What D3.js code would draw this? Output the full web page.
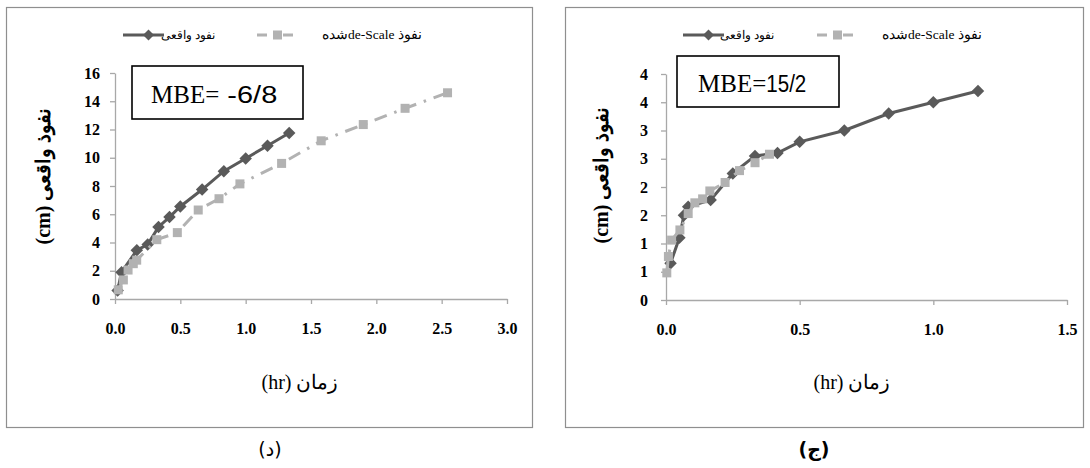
<!DOCTYPE html>
<meta charset="utf-8">
<script src="https://d3js.org/d3.v7.min.js"></script>
<style>
  body { margin: 0; background: #fff; }
</style>
<div id="chart"></div>

<script>
// ---- data ----
// left panel (د)
const leftActualT = [0.02, 0.05, 0.167, 0.25, 0.333, 0.417, 0.5, 0.667, 0.833, 1.0, 1.167, 1.333];
const leftActualV = [0.6, 1.9, 3.45, 3.85, 5.1, 5.8, 6.55, 7.75, 9.05, 9.95, 10.85, 11.75];
const leftScaledT = [0.025, 0.064, 0.10, 0.14, 0.166, 0.32, 0.477, 0.637, 0.796, 0.956, 1.275, 1.578, 1.90, 2.22, 2.545];
const leftScaledV = [0.65, 1.35, 2.05, 2.5, 2.75, 4.2, 4.7, 6.3, 7.1, 8.15, 9.6, 11.2, 12.35, 13.5, 14.6];
const leftXTicks = [0, 0.5, 1.0, 1.5, 2.0, 2.5, 3.0];
const leftYTicks = [0, 2, 4, 6, 8, 10, 12, 14, 16];
const leftYLabels = ["0", "2", "4", "6", "8", "10", "12", "14", "16"];

// right panel (ج)
const rightActualT = [0.017, 0.05, 0.067, 0.083, 0.167, 0.25, 0.333, 0.417, 0.5, 0.667, 0.833, 1.0, 1.167];
const rightActualV = [0.65, 1.1, 1.5, 1.65, 1.77, 2.24, 2.55, 2.6, 2.8, 3.0, 3.3, 3.5, 3.7];
const rightScaledT = [0.003, 0.009, 0.021, 0.052, 0.083, 0.108, 0.137, 0.164, 0.221, 0.275, 0.333, 0.387];
const rightScaledV = [0.48, 0.77, 1.06, 1.24, 1.53, 1.72, 1.79, 1.93, 2.08, 2.29, 2.43, 2.58];
const rightXTicks = [0, 0.5, 1.0, 1.5];
const rightYTicks = [0, 0.5, 1, 1.5, 2, 2.5, 3, 3.5, 4];
const rightYLabels = ["0", "1", "1", "2", "2", "3", "3", "4", "4"];

const legendActual = "نفود واقعی";
const legendScaled = "نفوذ de-Scaleشده";
const yTitle = "نفوذ واقعی (cm)";
const xTitle = "زمان (hr)";

const darkCol = "#5a5a5a", lightCol = "#b2b2b2", axisCol = "#a8a8a8";
const serif = "'Liberation Serif', serif";

const svg = d3.select("#chart").append("svg")
    .attr("width", 1090).attr("height", 468);

function panel(o) {
  // frame
  svg.append("rect")
    .attr("x", o.box[0] + 0.5).attr("y", o.box[1] + 0.5)
    .attr("width", o.box[2]).attr("height", o.box[3])
    .attr("fill", "#fff").attr("stroke", "#8f8f8f").attr("stroke-width", 1.2);

  const x = d3.scaleLinear().domain(o.xDomain).range(o.xRange);
  const y = d3.scaleLinear().domain(o.yDomain).range(o.yRange);

  const xa = svg.append("g")
    .attr("transform", `translate(0,${o.yRange[0]})`)
    .call(d3.axisBottom(x).tickValues(o.xTicks).tickFormat(d3.format(".1f"))
      .tickSizeInner(5).tickSizeOuter(0).tickPadding(19));
  const ya = svg.append("g")
    .attr("transform", `translate(${o.xRange[0]},0)`)
    .call(d3.axisLeft(y).tickValues(o.yTicks).tickFormat((d, i) => o.yLabels[i])
      .tickSizeInner(5).tickSizeOuter(0).tickPadding(o.yPad));
  [xa, ya].forEach(a => {
    a.select(".domain").attr("stroke", axisCol).attr("stroke-width", 1.3);
    a.selectAll(".tick line").attr("stroke", axisCol).attr("stroke-width", 1.3);
    a.selectAll("text").attr("fill", "#000")
      .style("font-family", serif).style("font-size", "16px").style("font-weight", "bold");
  });

  const line = d3.line().x(d => x(d[0])).y(d => y(d[1]));
  const act = o.actT.map((t, i) => [t, o.actV[i]]);
  const sc = o.scT.map((t, i) => [t, o.scV[i]]);

  svg.append("path").datum(act).attr("d", line)
    .attr("fill", "none").attr("stroke", darkCol).attr("stroke-width", 3);
  svg.append("g").selectAll("path").data(act).join("path")
    .attr("d", d3.symbol(d3.symbolSquare, 78))
    .attr("transform", d => `translate(${x(d[0])},${y(d[1])}) rotate(45)`)
    .attr("fill", darkCol);

  svg.append("path").datum(sc).attr("d", line)
    .attr("fill", "none").attr("stroke", lightCol).attr("stroke-width", 3)
    .attr("stroke-dasharray", "13,8,2.5,8");
  svg.append("g").selectAll("rect").data(sc).join("rect")
    .attr("x", d => x(d[0]) - 4.5).attr("y", d => y(d[1]) - 4.5)
    .attr("width", 9).attr("height", 9).attr("fill", lightCol);

  // MBE box
  svg.append("rect")
    .attr("x", o.mbeBox[0]).attr("y", o.mbeBox[1])
    .attr("width", o.mbeBox[2]).attr("height", o.mbeBox[3])
    .attr("fill", "#fff").attr("stroke", "#000").attr("stroke-width", 1.6);
  const mt = svg.append("text").attr("x", o.mbeText[0]).attr("y", o.mbeText[1]);
  mt.append("tspan").text(o.mbeA).style("font-family", serif).style("font-size", "25px");
  mt.append("tspan").text(o.mbeB).style("font-family", "'Liberation Sans', sans-serif")
    .style("font-size", "23px").attr("textLength", o.mbeBLen).attr("lengthAdjust", "spacingAndGlyphs");

  // legend
  const lg = o.legend;
  svg.append("line").attr("x1", lg.a[0]).attr("x2", lg.a[1]).attr("y1", lg.y).attr("y2", lg.y)
    .attr("stroke", darkCol).attr("stroke-width", 3);
  svg.append("path").attr("d", d3.symbol(d3.symbolSquare, 60))
    .attr("transform", `translate(${(lg.a[0] + lg.a[1]) / 2 + 5},${lg.y}) rotate(45)`)
    .attr("fill", darkCol);
  svg.append("text").attr("x", lg.t1).attr("y", lg.y + 4).attr("text-anchor", "middle")
    .attr("direction", "rtl").style("font-family", serif).style("font-size", "12px").text(legendActual);
  svg.append("line").attr("x1", lg.b[0]).attr("x2", lg.b[1]).attr("y1", lg.y).attr("y2", lg.y)
    .attr("stroke", lightCol).attr("stroke-width", 3).attr("stroke-dasharray", "10,7,2,7,10");
  svg.append("rect").attr("x", (lg.b[0] + lg.b[1]) / 2 - 4.5).attr("y", lg.y - 4.5)
    .attr("width", 9).attr("height", 9).attr("fill", lightCol);
  svg.append("text").attr("x", lg.t2).attr("y", lg.y + 4).attr("text-anchor", "middle")
    .attr("direction", "rtl").style("font-family", serif).style("font-size", "13.5px").text(legendScaled);

  // axis titles
  svg.append("text")
    .attr("transform", `translate(${o.yTitle[0]},${o.yTitle[1]}) rotate(-90)`)
    .attr("text-anchor", "middle").attr("direction", "rtl")
    .style("font-family", serif).style("font-weight", "bold").style("font-size", "20px")
    .text(yTitle);
  svg.append("text")
    .attr("x", o.xTitle[0]).attr("y", o.xTitle[1])
    .attr("text-anchor", "middle").attr("direction", "rtl")
    .style("font-family", serif).style("font-size", "20px")
    .text(xTitle);

  // caption under the frame
  svg.append("text")
    .attr("x", o.caption[0]).attr("y", o.caption[1])
    .attr("text-anchor", "middle").attr("direction", "rtl")
    .style("font-family", "'DejaVu Sans', sans-serif").style("font-size", "19px")
    .style("font-weight", o.capBold ? "bold" : "normal")
    .text(o.capText);
}

panel({
  box: [6, 7, 526, 420],
  xDomain: [0, 3], xRange: [115, 507],
  yDomain: [0, 16], yRange: [299, 73],
  xTicks: leftXTicks, yTicks: leftYTicks, yLabels: leftYLabels, yPad: 10,
  actT: leftActualT, actV: leftActualV, scT: leftScaledT, scV: leftScaledV,
  mbeBox: [132, 66, 171, 53], mbeText: [151, 103], mbeA: "MBE=", mbeB: " -6/8", mbeBLen: 58,
  legend: { y: 35, a: [123, 164], t1: 188, b: [257, 298], t2: 372 },
  yTitle: [50, 176], xTitle: [300, 389],
  caption: [270, 456], capText: "(د)", capBold: false
});

panel({
  box: [565, 7, 518, 420],
  xDomain: [0, 1.5], xRange: [666, 1067],
  yDomain: [0, 4], yRange: [300, 74],
  xTicks: rightXTicks, yTicks: rightYTicks, yLabels: rightYLabels, yPad: 13,
  actT: rightActualT, actV: rightActualV, scT: rightScaledT, scV: rightScaledV,
  mbeBox: [677, 56, 162, 51], mbeText: [698, 92], mbeA: "MBE=", mbeB: "15/2", mbeBLen: 40,
  legend: { y: 35, a: [683, 724], t1: 747, b: [817, 858], t2: 932 },
  yTitle: [608, 175], xTitle: [852, 389],
  caption: [814, 456], capText: "(ج)", capBold: true
});
</script>
